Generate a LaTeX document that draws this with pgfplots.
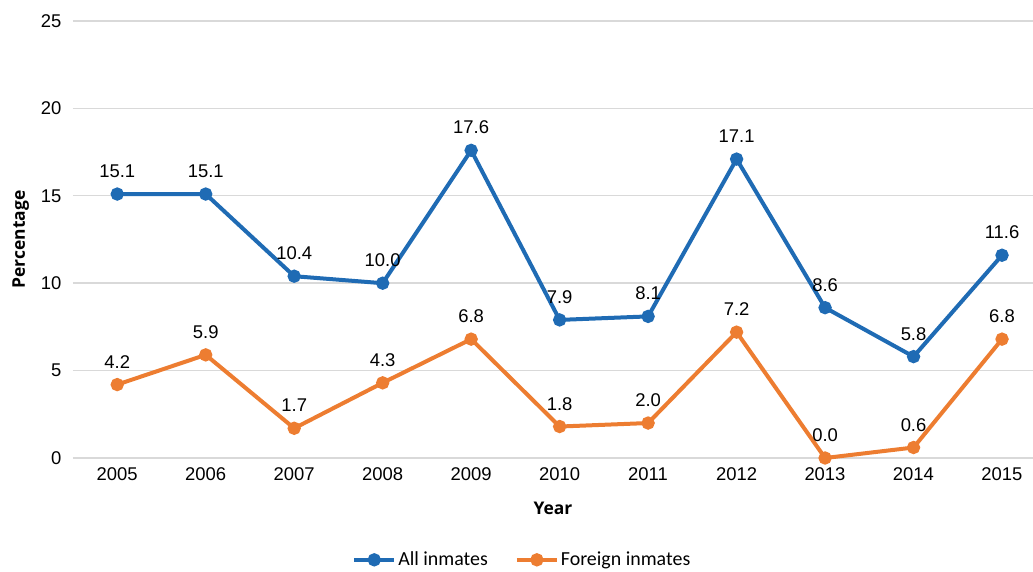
\documentclass[border=0pt]{standalone}
\usepackage{pgfplots}
\pgfplotsset{compat=1.18}
\usepackage{fontspec}
\setmainfont{Liberation Sans}
\newfontfamily\calfont{Carlito}
\newfontfamily\titlefont{Open Sans}
\usetikzlibrary{calc}
\definecolor{allblue}{RGB}{31,107,180}
\definecolor{forange}{RGB}{237,125,49}
\begin{document}
\begin{tikzpicture}
\begin{axis}[
  scale only axis,
  width=960bp, height=437bp,
  xmin=2004.5, xmax=2015.35,
  ymin=0, ymax=25,
  xtick={2005,...,2015},
  ytick={0,5,...,25},
  x tick label style={/pgf/number format/1000 sep={}},
  /pgf/number format/assume math mode=true,
  tick label style={font=\fontsize{18.5}{20}\selectfont},
  major tick length=0pt,
  xticklabel style={yshift=-6bp},
  yticklabel style={xshift=-8bp},
  axis line style={draw=none},
  ymajorgrids,
  major grid style={draw=black!15, line width=1.4bp},
  xlabel={\titlefont\bfseries\fontsize{17.5}{19}\selectfont Year},
  ylabel={\titlefont\bfseries\fontsize{17.5}{19}\selectfont Percentage},
  xlabel style={yshift=-15bp},
  ylabel style={yshift=5bp},
  clip=false,
  legend columns=2,
  legend style={draw=none, at={(0.468,-0.233)}, anchor=center,
    font=\calfont\fontsize{20}{22}\selectfont,
    /tikz/every even column/.append style={column sep=25bp}},
  legend image code/.code={
    \draw[#1, mark=none, line width=4bp] (0bp,0bp) -- (40bp,0bp);
    \draw[#1, only marks] plot coordinates {(20bp,0bp)};
  },
  nodes near coords,
  every node near coord/.append style={font=\fontsize{18.5}{20}\selectfont, color=black, anchor=south, yshift=11bp,
    /pgf/number format/fixed, /pgf/number format/fixed zerofill, /pgf/number format/precision=1},
]
\addplot[allblue, line width=4bp, mark=*, mark size=4.6bp] coordinates {
(2005,15.1) (2006,15.1) (2007,10.4) (2008,10.0) (2009,17.6) (2010,7.9)
(2011,8.1) (2012,17.1) (2013,8.6) (2014,5.8) (2015,11.6)};
\addlegendentry{All inmates}
\addplot[forange, line width=4bp, mark=*, mark size=4.6bp] coordinates {
(2005,4.2) (2006,5.9) (2007,1.7) (2008,4.3) (2009,6.8) (2010,1.8)
(2011,2.0) (2012,7.2) (2013,0.0) (2014,0.6) (2015,6.8)};
\addlegendentry{Foreign inmates}
\coordinate (bl) at (rel axis cs:0,0);
\coordinate (tr) at (rel axis cs:1,1);
\end{axis}
\pgfresetboundingbox
\path ($(bl)+(-73bp,-114bp)$) rectangle ($(tr)+(0bp,21bp)$);
\end{tikzpicture}
\end{document}
